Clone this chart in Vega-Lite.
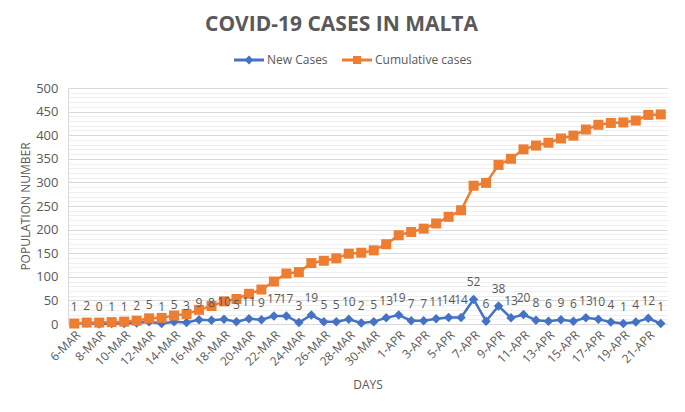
{
  "$schema": "https://vega.github.io/schema/vega-lite/v6.json",
  "width": 599,
  "height": 236,
  "autosize": "none",
  "padding": {"left": 68, "top": 88, "right": 18, "bottom": 88},
  "background": "white",
  "config": {
    "font": "Open Sans",
    "view": {"stroke": null},
    "legend": {"orient": "none", "legendX": 166, "legendY": -43, "direction": "horizontal", "labelFontSize": 12, "labelColor": "#595959", "symbolStrokeWidth": 0, "symbolSize": 900, "columnPadding": 14, "labelOffset": 3, "title": null}
  },
  "title": {"text": "COVID-19 CASES IN MALTA", "fontSize": 21, "fontWeight": "bold", "color": "#595959", "anchor": "middle", "dx": -26, "baseline": "alphabetic", "offset": -7},
  "data": {"values": [
    {"day": "6-MAR", "New Cases": 1, "Cumulative cases": 1},
    {"day": "7-MAR", "New Cases": 2, "Cumulative cases": 3},
    {"day": "8-MAR", "New Cases": 0, "Cumulative cases": 3},
    {"day": "9-MAR", "New Cases": 1, "Cumulative cases": 4},
    {"day": "10-MAR", "New Cases": 1, "Cumulative cases": 5},
    {"day": "11-MAR", "New Cases": 2, "Cumulative cases": 7},
    {"day": "12-MAR", "New Cases": 5, "Cumulative cases": 12},
    {"day": "13-MAR", "New Cases": 1, "Cumulative cases": 13},
    {"day": "14-MAR", "New Cases": 5, "Cumulative cases": 18},
    {"day": "15-MAR", "New Cases": 3, "Cumulative cases": 21},
    {"day": "16-MAR", "New Cases": 9, "Cumulative cases": 30},
    {"day": "17-MAR", "New Cases": 8, "Cumulative cases": 38},
    {"day": "18-MAR", "New Cases": 10, "Cumulative cases": 48},
    {"day": "19-MAR", "New Cases": 5, "Cumulative cases": 53},
    {"day": "20-MAR", "New Cases": 11, "Cumulative cases": 64},
    {"day": "21-MAR", "New Cases": 9, "Cumulative cases": 73},
    {"day": "22-MAR", "New Cases": 17, "Cumulative cases": 90},
    {"day": "23-MAR", "New Cases": 17, "Cumulative cases": 107},
    {"day": "24-MAR", "New Cases": 3, "Cumulative cases": 110},
    {"day": "25-MAR", "New Cases": 19, "Cumulative cases": 129},
    {"day": "26-MAR", "New Cases": 5, "Cumulative cases": 134},
    {"day": "27-MAR", "New Cases": 5, "Cumulative cases": 139},
    {"day": "28-MAR", "New Cases": 10, "Cumulative cases": 149},
    {"day": "29-MAR", "New Cases": 2, "Cumulative cases": 151},
    {"day": "30-MAR", "New Cases": 5, "Cumulative cases": 156},
    {"day": "31-MAR", "New Cases": 13, "Cumulative cases": 169},
    {"day": "1-APR", "New Cases": 19, "Cumulative cases": 188},
    {"day": "2-APR", "New Cases": 7, "Cumulative cases": 195},
    {"day": "3-APR", "New Cases": 7, "Cumulative cases": 202},
    {"day": "4-APR", "New Cases": 11, "Cumulative cases": 213},
    {"day": "5-APR", "New Cases": 14, "Cumulative cases": 227},
    {"day": "6-APR", "New Cases": 14, "Cumulative cases": 241},
    {"day": "7-APR", "New Cases": 52, "Cumulative cases": 293},
    {"day": "8-APR", "New Cases": 6, "Cumulative cases": 299},
    {"day": "9-APR", "New Cases": 38, "Cumulative cases": 337},
    {"day": "10-APR", "New Cases": 13, "Cumulative cases": 350},
    {"day": "11-APR", "New Cases": 20, "Cumulative cases": 370},
    {"day": "12-APR", "New Cases": 8, "Cumulative cases": 378},
    {"day": "13-APR", "New Cases": 6, "Cumulative cases": 384},
    {"day": "14-APR", "New Cases": 9, "Cumulative cases": 393},
    {"day": "15-APR", "New Cases": 6, "Cumulative cases": 399},
    {"day": "16-APR", "New Cases": 13, "Cumulative cases": 412},
    {"day": "17-APR", "New Cases": 10, "Cumulative cases": 422},
    {"day": "18-APR", "New Cases": 4, "Cumulative cases": 426},
    {"day": "19-APR", "New Cases": 1, "Cumulative cases": 427},
    {"day": "20-APR", "New Cases": 4, "Cumulative cases": 431},
    {"day": "21-APR", "New Cases": 12, "Cumulative cases": 443},
    {"day": "22-APR", "New Cases": 1, "Cumulative cases": 444}
  ]},
  "transform": [{"fold": ["New Cases", "Cumulative cases"], "as": ["series", "value"]}],
  "encoding": {
    "x": {
      "field": "day", "type": "nominal", "sort": null,
      "scale": {"type": "point", "padding": 0.5},
      "axis": {
        "values": ["6-MAR","8-MAR","10-MAR","12-MAR","14-MAR","16-MAR","18-MAR","20-MAR","22-MAR","24-MAR","26-MAR","28-MAR","30-MAR","1-APR","3-APR","5-APR","7-APR","9-APR","11-APR","13-APR","15-APR","17-APR","19-APR","21-APR"],
        "labelAngle": -45, "labelFontSize": 12, "labelColor": "#595959", "ticks": false, "labelPadding": 5,
        "domainColor": "#d9d9d9", "grid": false,
        "title": "DAYS", "titleFontSize": 12, "titleFontWeight": "normal", "titleColor": "#595959", "titlePadding": 12
      }
    },
    "y": {
      "field": "value", "type": "quantitative",
      "scale": {"domain": [0, 500], "nice": false},
      "axis": {
        "values": [0,10,20,30,40,50,60,70,80,90,100,110,120,130,140,150,160,170,180,190,200,210,220,230,240,250,260,270,280,290,300,310,320,330,340,350,360,370,380,390,400,410,420,430,440,450,460,470,480,490,500],
        "labelExpr": "datum.value % 50 === 0 ? datum.label : ''",
        "labelFontSize": 13, "labelColor": "#595959", "ticks": false, "labelPadding": 10,
        "domainColor": "#d9d9d9",
        "gridColor": {"condition": {"test": "datum.value % 50 === 0", "value": "#d9d9d9"}, "value": "#efefef"},
        "title": "POPULATION NUMBER", "titleFontSize": 12, "titleFontWeight": "normal", "titleColor": "#595959", "titlePadding": 3
      }
    }
  },
  "layer": [
    {
      "transform": [{"filter": "datum.series === 'New Cases'"}],
      "mark": {"type": "line", "color": "#4472C4", "strokeWidth": 2.5}
    },
    {
      "transform": [{"filter": "datum.series === 'New Cases'"}],
      "mark": {"type": "point", "shape": "diamond", "filled": true, "color": "#4472C4", "size": 90, "opacity": 1}
    },
    {
      "transform": [{"filter": "datum.series === 'Cumulative cases'"}],
      "mark": {"type": "line", "color": "#ED7D31", "strokeWidth": 2.5}
    },
    {
      "transform": [{"filter": "datum.series === 'Cumulative cases'"}],
      "mark": {"type": "point", "shape": "square", "filled": true, "color": "#ED7D31", "size": 100, "opacity": 1}
    },
    {
      "transform": [{"filter": "datum.series === 'New Cases'"}],
      "mark": {"type": "text", "dy": -17, "fontSize": 12, "color": "#595959", "baseline": "middle"},
      "encoding": {"text": {"field": "value", "type": "quantitative"}}
    },
    {
      "transform": [{"filter": "false"}],
      "mark": {"type": "point", "filled": true, "opacity": 1},
      "encoding": {
        "color": {"field": "series", "type": "nominal", "scale": {"domain": ["New Cases", "Cumulative cases"], "range": ["#4472C4", "#ED7D31"]}, "legend": {"title": null}},
        "shape": {"field": "series", "type": "nominal", "scale": {"domain": ["New Cases", "Cumulative cases"], "range": ["M-1,-0.1H1V0.1H-1Z M0,-0.3L0.3,0L0,0.3L-0.3,0Z", "M-1,-0.1H1V0.1H-1Z M-0.27,-0.27H0.27V0.27H-0.27Z"]}, "legend": {"title": null}}
      }
    }
  ]
}
